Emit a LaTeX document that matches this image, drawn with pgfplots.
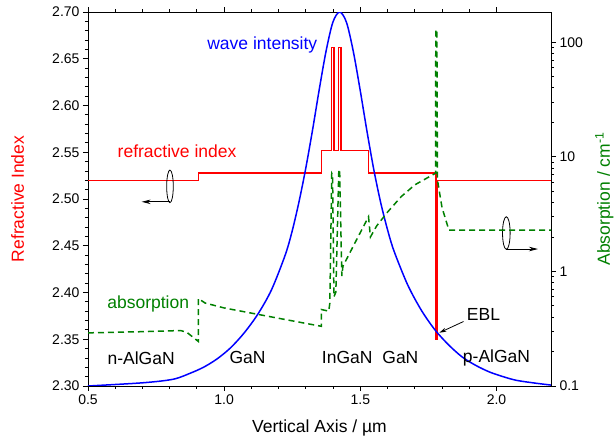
\documentclass[border=0pt]{standalone}
\usepackage{fontspec}
\setmainfont{Liberation Sans}
\usepackage{pgfplots}
\pgfplotsset{compat=1.18}
\usetikzlibrary{arrows.meta}
\definecolor{ogreen}{RGB}{0,128,0}
\newcommand{\lab}{\fontsize{17.5bp}{20bp}\selectfont}
\newcommand{\tck}{\fontsize{14bp}{16bp}\selectfont}

\pgfplotsset{
  common/.style={
    scale only axis, width=463bp, height=374bp,
    xmin=0.5, xmax=2.2,
    tick align=outside,
    major tick length=5bp, minor tick length=3bp,
    tick style={black, line width=0.9bp},
    axis line style={line width=0.9bp},
    tick label style={font=\tck},
    label style={font=\lab},
    /pgf/number format/assume math mode=true,
  },
}

\begin{document}
\begin{tikzpicture}
\useasboundingbox (-88bp,-59bp) rectangle (528bp,386bp);

% ---- left axis: refractive index and wave intensity ----
\begin{axis}[common,
    ymin=2.30, ymax=2.70,
    axis y line*=left,
    xtick={0.5,1.0,1.5,2.0}, minor x tick num=4,
    ytick={2.30,2.35,2.40,2.45,2.50,2.55,2.60,2.65,2.70}, minor y tick num=4,
    xticklabel style={/pgf/number format/.cd, fixed, fixed zerofill, precision=1},
    yticklabel style={/pgf/number format/.cd, fixed, fixed zerofill, precision=2},
    xlabel={Vertical Axis / µm},
    ylabel={Refractive Index},
    xlabel style={at={(axis description cs:0.5,-0.112)}, anchor=center},
    ylabel style={red, at={(axis description cs:-0.152,0.5)}, anchor=center},
]

% refractive index
\addplot[red, line width=1.6bp] coordinates {
    (0.5,2.520) (0.905,2.520) (0.905,2.528) (1.357,2.528) (1.357,2.552)
    (1.394,2.552) (1.394,2.662) (1.404,2.662) (1.404,2.552)
    (1.420,2.552) (1.420,2.662) (1.430,2.662) (1.430,2.552)
    (1.530,2.552) (1.530,2.528) (1.777,2.528) (1.777,2.350)
    (1.783,2.350) (1.783,2.520) (2.2,2.520)
};

% wave intensity
\addplot[blue, line width=1.5bp, smooth] coordinates {
    (0.500,2.300) (0.624,2.302) (0.704,2.3035) (0.774,2.3055) (0.824,2.308)
    (0.874,2.3135) (0.924,2.320) (0.974,2.329) (1.024,2.341) (1.074,2.357)
    (1.124,2.377) (1.174,2.403) (1.224,2.440) (1.249,2.465) (1.274,2.496)
    (1.299,2.532) (1.324,2.573) (1.349,2.617) (1.374,2.658) (1.399,2.689)
    (1.424,2.700) (1.449,2.689) (1.474,2.658) (1.499,2.617) (1.524,2.573)
    (1.549,2.532) (1.574,2.497) (1.599,2.468) (1.624,2.444) (1.674,2.408)
    (1.724,2.381) (1.774,2.360) (1.824,2.344) (1.874,2.331) (1.924,2.322)
    (1.974,2.315) (2.024,2.310) (2.074,2.306) (2.144,2.303) (2.200,2.301)
};

\node[blue, font=\lab] at (axis cs:1.140,2.665) {wave intensity};
\node[red, font=\lab] at (axis cs:0.827,2.551) {refractive index};
\node[ogreen, font=\lab] at (axis cs:0.721,2.388) {absorption};
\node[font=\lab] at (axis cs:0.695,2.330) {n-AlGaN};
\node[font=\lab] at (axis cs:1.086,2.330) {GaN};
\node[font=\lab] at (axis cs:1.452,2.330) {InGaN};
\node[font=\lab] at (axis cs:1.647,2.330) {GaN};
\node[font=\lab] at (axis cs:2.000,2.330) {p-AlGaN};
\node[font=\lab] at (axis cs:1.952,2.376) {EBL};
\draw[line width=0.8bp, -{Stealth[length=7bp,width=4bp]}]
    (axis cs:1.879,2.369) -- (axis cs:1.790,2.357);

% layer markers
\draw[line width=0.8bp] (axis cs:0.801,2.5135) ellipse [x radius=3.3bp, y radius=16.3bp];
\draw[line width=0.8bp, -{Stealth[length=9bp,width=4.5bp]}]
    (axis cs:0.801,2.497) -- (axis cs:0.697,2.497);
\draw[line width=0.8bp] (axis cs:2.036,2.4636) ellipse [x radius=3.8bp, y radius=16.3bp];
\draw[line width=0.8bp, -{Stealth[length=9bp,width=4.5bp]}]
    (axis cs:2.036,2.4465) -- (axis cs:2.152,2.4465);
\end{axis}

% ---- right axis: absorption ----
\begin{axis}[common,
    ymode=log, ymin=0.1, ymax=184,
    axis y line*=right, axis x line=none,
    log ticks with fixed point,
    ylabel={Absorption / cm\textsuperscript{-1}},
    ylabel style={ogreen, at={(axis description cs:1.115,0.5)}, anchor=center},
]
\addplot[ogreen, line width=1.5bp, dash pattern=on 6bp off 4bp] coordinates {
    (0.50,0.291) (0.70,0.298) (0.84,0.305) (0.863,0.294) (0.905,0.245)
    (0.905,0.58) (0.93,0.53) (1.00,0.48) (1.20,0.39) (1.357,0.332)
    (1.357,0.465) (1.384,0.45) (1.388,0.53) (1.395,7.2) (1.398,7.0)
    (1.403,0.60) (1.410,0.66) (1.421,7.8) (1.424,7.6) (1.432,0.91)
    (1.436,1.11) (1.483,1.83) (1.530,3.0) (1.537,2.0) (1.56,2.5)
    (1.60,3.3) (1.65,4.5) (1.70,5.7) (1.776,7.2) (1.777,130)
    (1.781,125) (1.783,6.3) (1.80,3.6) (1.825,2.3) (2.20,2.3)
};
\end{axis}
\end{tikzpicture}
\end{document}
